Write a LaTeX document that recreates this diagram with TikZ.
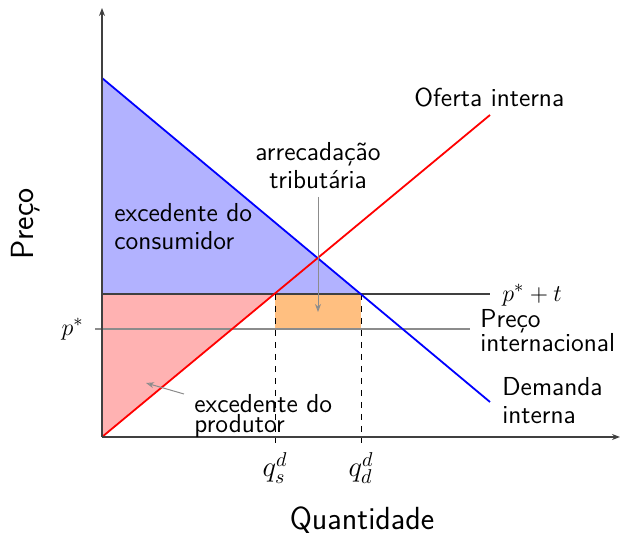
\documentclass[tikz,border=0pt]{standalone}
\usepackage{tikz}
\usetikzlibrary{arrows.meta, positioning}
\renewcommand{\familydefault}{\sfdefault}

\begin{document}
\begin{tikzpicture}[x=0.5pt,y=-0.5pt,font=\fontsize{13}{14}\selectfont,
  axis/.style={draw=black!75,line width=0.6pt,-{Stealth[length=4pt,width=3pt]}},
  guide/.style={draw=black,dashed,line width=0.5pt},
  pointer/.style={draw=black!45,line width=0.5pt,-{Stealth[length=4pt,width=3pt,open]}},
  lbl/.style={align=left,inner sep=0pt,anchor=west}]
\useasboundingbox (0,0) rectangle (623,534);
% key points
\coordinate (O) at (102,437);
\coordinate (Ytop) at (102,8);
\coordinate (Xend) at (620,437);
\coordinate (Dtop) at (102,78);
\coordinate (Dend) at (490,402);
\coordinate (Send) at (490,115);
\coordinate (Ta) at (102,294);
\coordinate (Tb) at (490,294);
\coordinate (Qs) at (275,294);
\coordinate (Qd) at (361,294);
\coordinate (Pa) at (95,329);
\coordinate (Pb) at (470,329);
% surpluses
\fill[blue!30] (Dtop) -- (Qd) -- (Ta) -- cycle;
\fill[red!30] (O) -- (Qs) -- (Ta) -- cycle;
\fill[orange!50] (Qs) rectangle (Qd |- Pa);
% price lines
\draw[black!75,line width=0.6pt] (Ta) -- (Tb);
\draw[black!45,line width=0.8pt] (Pa) -- (Pb);
\draw[guide] (Qs) -- (Qs |- 0,443);
\draw[guide] (Qd) -- (Qd |- 0,443);
% supply and demand
\draw[blue,line width=0.9pt] (Dtop) -- (Dend);
\draw[red,line width=0.9pt] (O) -- (Send);
% axes
\draw[axis] (O) -- (Ytop);
\draw[axis] (O) -- (Xend);
% labels
\node[rotate=90,font=\fontsize{16}{18}\selectfont] (preco) at (26,224) {Preço};
\node[font=\fontsize{16}{18}\selectfont] (quant) at (362,520) {Quantidade};
\node[anchor=east,inner sep=0pt] (pstar) at (84,329) {$p^*$};
\node[lbl] (cons) at (114,227) {excedente do\\consumidor};
\node[align=center,inner sep=0pt] (arrec) at (318,166) {arrecadação\\tributária};
\node[lbl] (oferta) at (414,97) {Oferta interna};
\node[lbl] (pt) at (502,295) {$p^*+t$};
\node[lbl,font=\fontsize{13}{12}\selectfont] (pint) at (480,331) {Preço\\internacional};
\node[lbl] (dem) at (502,401) {Demanda\\interna};
\node[lbl,font=\fontsize{13}{9}\selectfont] (prod) at (194,416) {excedente do\\produtor};
\node[inner sep=0pt,font=\fontsize{14}{16}\selectfont] (qsd) at (275,468) {$q_s^d$};
\node[inner sep=0pt,font=\fontsize{14}{16}\selectfont] (qdd) at (361,468) {$q_d^d$};
% pointers
\coordinate (arrTip) at (318,312);
\coordinate (prodTip) at (146,383);
\coordinate (prodTail) at (184,394);
\draw[pointer] (arrec.south |- 0,197) -- (arrTip);
\draw[pointer] (prodTail) -- (prodTip);
\end{tikzpicture}
\end{document}
